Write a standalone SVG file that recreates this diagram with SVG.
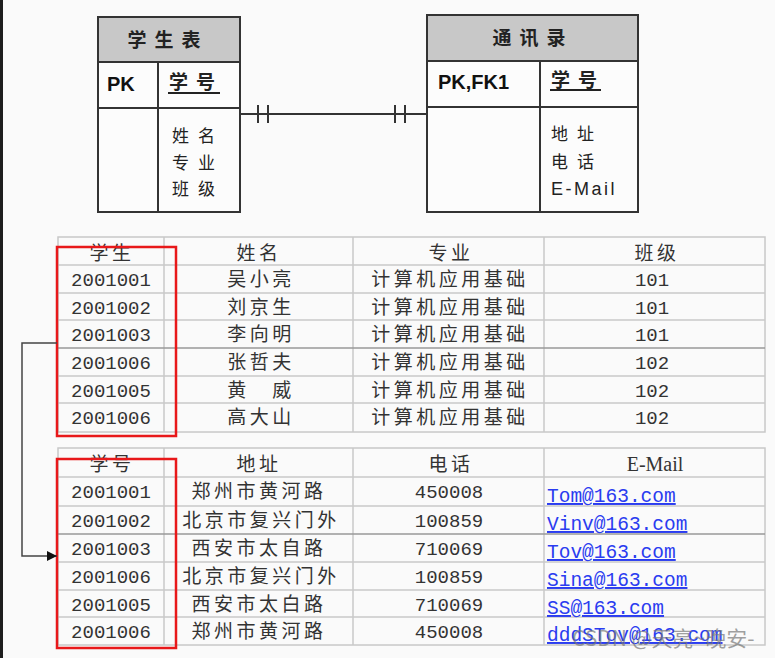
<svg xmlns="http://www.w3.org/2000/svg" width="775" height="658" viewBox="0 0 775 658">
<defs>
<style>
.bx{fill:#fcfcfc;stroke:#333;stroke-width:2}
.hd{fill:#c8c8c8;stroke:#333;stroke-width:2}
.ln{stroke:#333;stroke-width:2;fill:none}
.er{font-family:"Noto Sans CJK SC","Noto Sans",sans-serif;font-size:19px;fill:#222;font-weight:bold}
.erb{font-family:"Noto Sans CJK SC","Noto Sans",sans-serif;font-size:17px;fill:#222;letter-spacing:9px}
.pk{font-family:"Liberation Sans",Arial,sans-serif;font-size:20px;font-weight:bold;fill:#111}
.grid{stroke:#c8c8c8;stroke-width:1.5;fill:none}
.gd{stroke:#999;stroke-width:1.5}
.cn{font-family:"Noto Sans CJK SC","Noto Sans",sans-serif;font-size:19px;fill:#333;letter-spacing:3.5px;text-anchor:middle}
.num{font-family:"Liberation Mono","Courier New",monospace;font-size:19px;fill:#333;text-anchor:middle}
.em{font-family:"Liberation Mono","Courier New",monospace;font-size:19.5px;fill:#2a3cf0;text-decoration:underline}
.red{fill:none;stroke:#e8181a;stroke-width:2.5}
.wm{font-family:"Noto Sans CJK SC","Noto Sans",sans-serif;font-size:21px;fill:#777;fill-opacity:0.7}
</style>
<marker id="arr" viewBox="0 0 10 10" refX="10" refY="5" markerWidth="10" markerHeight="10" markerUnits="userSpaceOnUse" orient="auto">
<path d="M0,0 L10,5 L0,10 z" fill="#111"/>
</marker>
</defs>
<rect x="0" y="0" width="775" height="658" fill="#fafafa"/>
<rect x="0" y="0" width="3" height="658" fill="#1e1e1e"/>

<g id="student-entity">
<rect class="bx" x="98" y="17" width="142" height="195"/>
<rect class="hd" x="98" y="17" width="142" height="45"/>
<line class="ln" x1="98" y1="108" x2="240" y2="108"/>
<line class="ln" x1="158" y1="62" x2="158" y2="212"/>
<text class="er" x="168" y="47" text-anchor="middle" letter-spacing="8">学生表</text>
<text class="pk" x="107" y="91">PK</text>
<text class="er" x="169" y="89" letter-spacing="8">学号</text>
<line x1="168" y1="93" x2="220" y2="93" stroke="#222" stroke-width="2"/>
<text class="erb" x="172" y="142">姓名</text>
<text class="erb" x="172" y="169">专业</text>
<text class="erb" x="172" y="195">班级</text>
</g>

<g id="contact-entity">
<rect class="bx" x="427" y="15" width="211" height="197"/>
<rect class="hd" x="427" y="15" width="211" height="46"/>
<line class="ln" x1="427" y1="107" x2="638" y2="107"/>
<line class="ln" x1="540" y1="61" x2="540" y2="212"/>
<text class="er" x="533" y="45" text-anchor="middle" letter-spacing="8">通讯录</text>
<text class="pk" x="438" y="89">PK,FK1</text>
<text class="er" x="551" y="87" letter-spacing="8">学号</text>
<line x1="550" y1="90" x2="601" y2="90" stroke="#222" stroke-width="2"/>
<text class="erb" x="551" y="140">地址</text>
<text class="erb" x="551" y="168">电话</text>
<text x="551" y="195" font-family="Liberation Sans,Arial,sans-serif" font-size="18" fill="#222" letter-spacing="2.5">E-Mail</text>
</g>

<g id="student-table">
<rect class="grid" x="58" y="237" width="707" height="195"/>
<g class="grid">
<line x1="58" y1="265" x2="765" y2="265"/>
<line x1="58" y1="293" x2="765" y2="293"/>
<line x1="58" y1="320" x2="765" y2="320"/>
<line x1="58" y1="376" x2="765" y2="376"/>
<line x1="58" y1="403" x2="765" y2="403"/>
<line x1="164" y1="237" x2="164" y2="432"/>
<line x1="353" y1="237" x2="353" y2="432"/>
<line x1="544" y1="237" x2="544" y2="432"/>
</g>
<line class="gd" x1="58" y1="348" x2="765" y2="348"/>
<text class="cn" x="112" y="260">学生</text>
<text class="cn" x="259" y="260">姓名</text>
<text class="cn" x="451" y="260">专业</text>
<text class="cn" x="657" y="260">班级</text>
<text class="num" x="111" y="286">2001001</text>
<text class="num" x="111" y="314">2001002</text>
<text class="num" x="111" y="341">2001003</text>
<text class="num" x="111" y="369">2001006</text>
<text class="num" x="111" y="397">2001005</text>
<text class="num" x="111" y="424">2001006</text>
<text class="cn" x="261" y="286">吴小亮</text>
<text class="cn" x="261" y="314">刘京生</text>
<text class="cn" x="261" y="341">李向明</text>
<text class="cn" x="261" y="369">张哲夫</text>
<text class="cn" x="261" y="397">黄　威</text>
<text class="cn" x="261" y="424">高大山</text>
<text class="cn" x="450" y="286">计算机应用基础</text>
<text class="cn" x="450" y="314">计算机应用基础</text>
<text class="cn" x="450" y="341">计算机应用基础</text>
<text class="cn" x="450" y="369">计算机应用基础</text>
<text class="cn" x="450" y="397">计算机应用基础</text>
<text class="cn" x="450" y="424">计算机应用基础</text>
<text class="num" x="652" y="286">101</text>
<text class="num" x="652" y="314">101</text>
<text class="num" x="652" y="341">101</text>
<text class="num" x="652" y="369">102</text>
<text class="num" x="652" y="397">102</text>
<text class="num" x="652" y="424">102</text>
<rect class="red" x="57" y="247" width="119" height="189"/>
</g>

<g id="contact-table">
<rect class="grid" x="58" y="448" width="707" height="197"/>
<g class="grid">
<line x1="58" y1="477" x2="765" y2="477"/>
<line x1="58" y1="506" x2="765" y2="506"/>
<line x1="58" y1="562" x2="765" y2="562"/>
<line x1="58" y1="590" x2="765" y2="590"/>
<line x1="58" y1="617" x2="765" y2="617"/>
<line x1="164" y1="448" x2="164" y2="645"/>
<line x1="353" y1="448" x2="353" y2="645"/>
<line x1="544" y1="448" x2="544" y2="645"/>
</g>
<line class="gd" x1="58" y1="534" x2="765" y2="534"/>
<text class="cn" x="112" y="471">学号</text>
<text class="cn" x="259" y="471">地址</text>
<text class="cn" x="451" y="471">电话</text>
<text x="655" y="471" font-family="Liberation Serif,'Times New Roman',serif" font-size="20" fill="#333" text-anchor="middle">E-Mail</text>
<text class="num" x="111" y="498">2001001</text>
<text class="num" x="111" y="527">2001002</text>
<text class="num" x="111" y="555">2001003</text>
<text class="num" x="111" y="583">2001006</text>
<text class="num" x="111" y="611">2001005</text>
<text class="num" x="111" y="638">2001006</text>
<text class="cn" x="259" y="498">郑州市黄河路</text>
<text class="cn" x="261" y="527">北京市复兴门外</text>
<text class="cn" x="259" y="555">西安市太自路</text>
<text class="cn" x="261" y="583">北京市复兴门外</text>
<text class="cn" x="259" y="611">西安市太白路</text>
<text class="cn" x="259" y="638">郑州市黄河路</text>
<text class="num" x="449" y="498">450008</text>
<text class="num" x="449" y="527">100859</text>
<text class="num" x="449" y="555">710069</text>
<text class="num" x="449" y="583">100859</text>
<text class="num" x="449" y="611">710069</text>
<text class="num" x="449" y="638">450008</text>
<text class="em" x="547" y="502">Tom@163.com</text>
<text class="em" x="547" y="530">Vinv@163.com</text>
<text class="em" x="547" y="558">Tov@163.com</text>
<text class="em" x="547" y="586">Sina@163.com</text>
<text class="em" x="547" y="614">SS@163.com</text>
<text class="em" x="547" y="641">dddSTov@163.com</text>
<rect class="red" x="57" y="459" width="119" height="189"/>
</g>

<g id="connectors">
<line class="ln" x1="240" y1="114" x2="427" y2="114"/>
<line class="ln" x1="258" y1="105" x2="258" y2="123"/>
<line class="ln" x1="268" y1="105" x2="268" y2="123"/>
<line class="ln" x1="395" y1="105" x2="395" y2="123"/>
<line class="ln" x1="405" y1="105" x2="405" y2="123"/>
<polyline points="57,343 22,343 22,556 57,556" fill="none" stroke="#444" stroke-width="1.5" marker-end="url(#arr)"/>
</g>

<text class="wm" x="572" y="646">CSDN @天亮~晚安-</text>
</svg>
